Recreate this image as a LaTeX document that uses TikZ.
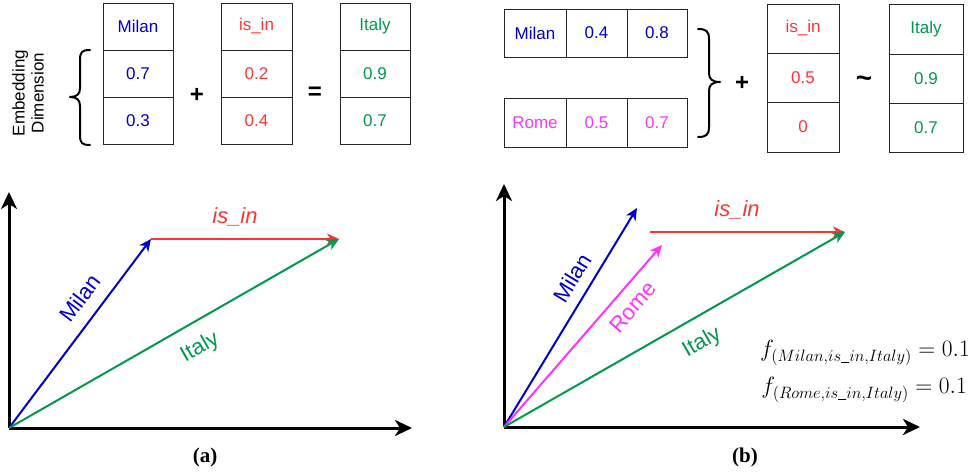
\RequirePackage{fix-cm}
\documentclass[tikz,border=0pt]{standalone}
\usepackage{fontspec}
\setmainfont{Liberation Sans}
\newfontfamily\serifb{Liberation Serif}
\usetikzlibrary{arrows.meta}
\definecolor{cblue}{HTML}{0000CC}
\definecolor{cred}{HTML}{FF3333}
\definecolor{cgreen}{HTML}{00994D}
\definecolor{cmag}{HTML}{FF33FF}
\newcommand{\usc}{\mbox{\rule[-2pt]{8pt}{0.8pt}}}
\begin{document}
\begin{tikzpicture}[x=1pt,y=-1pt,
  cell/.style={draw=black!85, line width=1pt, inner sep=0pt, font=\fontsize{17}{20}\selectfont},
  lcell/.style={cell, minimum width=70pt, minimum height=47pt},
  op/.style={font=\fontsize{24}{26}\selectfont\bfseries, inner sep=0pt},
  brace/.style={line width=2pt, line cap=round, line join=round},
  axis/.style={line width=3pt, -{Stealth[length=17pt,width=16pt,inset=5pt]}},
  vec/.style={line width=2pt, -{Stealth[length=12pt,width=11pt,inset=3.5pt]}},
  plab/.style={font=\fontsize{22}{26}\selectfont, inner sep=0pt},
  caplab/.style={font=\fontsize{21}{24}\selectfont\serifb\bfseries, inner sep=0pt},
  fml/.style={font=\fontsize{23.5}{28}\selectfont, inner sep=0pt, anchor=east}]
\useasboundingbox (0,0) rectangle (972,474);

% ---------- top left ----------
\node[font=\fontsize{17}{19}\selectfont, rotate=90, align=center, inner sep=0pt] (emb) at (28,93) {Embedding\\Dimension};
\draw[brace] (90,50) .. controls (82,50) and (80,52) .. (80,60) -- (80,88)
  .. controls (80,94) and (77,97) .. (70,97) .. controls (77,97) and (80,100) .. (80,106)
  -- (80,135) .. controls (80,143) and (82,145) .. (90,145);

\node[lcell, text=cblue] (ma) at (138,26.5) {Milan};
\node[lcell, text=cblue] (mb) at (138,73.5) {0.7};
\node[lcell, text=cblue] (mc) at (138,121) {0.3};
\node[op] (plusa) at (197,95) {+};
\node[lcell, minimum width=71pt, text=cred] (ra) at (256.5,26.5) {is\_in};
\node[lcell, minimum width=71pt, text=cred] (rb) at (256.5,73.5) {0.2};
\node[lcell, minimum width=71pt, text=cred] (rc) at (256.5,121) {0.4};
\node[op] (eqa) at (315,93) {=};
\node[lcell, text=cgreen] (ia) at (375,26.5) {Italy};
\node[lcell, text=cgreen] (ib) at (375,73.5) {0.9};
\node[lcell, text=cgreen] (ic) at (375,121) {0.7};

% ---------- top right ----------
\node[cell, minimum width=62pt, minimum height=48pt, text=cblue] (m1) at (535,33) {Milan};
\node[cell, minimum width=61pt, minimum height=48pt, text=cblue] (m2) at (596.5,33) {0.4};
\node[cell, minimum width=60pt, minimum height=48pt, text=cblue] (m3) at (657,33) {0.8};
\node[cell, minimum width=62pt, minimum height=49pt, text=cmag] (r1) at (535,122.5) {Rome};
\node[cell, minimum width=61pt, minimum height=49pt, text=cmag] (r2) at (596.5,122.5) {0.5};
\node[cell, minimum width=60pt, minimum height=49pt, text=cmag] (r3) at (657,122.5) {0.7};
\draw[brace] (698,29) .. controls (706,29) and (709,31) .. (709,39) -- (709,73)
  .. controls (709,79) and (712,82) .. (720,82) .. controls (712,82) and (709,85) .. (709,91)
  -- (709,127) .. controls (709,135) and (706,137) .. (698,137);
\node[op] (plusb) at (742,83) {+};
\node[cell, minimum width=72pt, minimum height=49pt, text=cred] (s1) at (803,28.5) {is\_in};
\node[cell, minimum width=72pt, minimum height=49pt, text=cred] (s2) at (803,77.5) {0.5};
\node[cell, minimum width=72pt, minimum height=50pt, text=cred] (s3) at (803,127) {0};
\node[op, font=\fontsize{28}{30}\selectfont\bfseries] (tilde) at (864,82) {\textasciitilde};
\node[cell, minimum width=74pt, minimum height=50pt, text=cgreen] (t1) at (926,29) {Italy};
\node[cell, minimum width=74pt, minimum height=49pt, text=cgreen] (t2) at (926,78.5) {0.9};
\node[cell, minimum width=74pt, minimum height=49pt, text=cgreen] (t3) at (926,127.5) {0.7};

% ---------- plot (a) ----------
\coordinate (oa) at (9,428);
\coordinate (ya) at (9,192);
\coordinate (xa) at (412,428);
\coordinate (pm) at (151,239);
\coordinate (pi) at (339,239);
\draw[axis] (oa) -- (ya);
\draw[axis] (oa) -- (xa);
\draw[vec, cred] (pm) -- (pi);
\draw[vec, cblue] (oa) -- (pm);
\draw[vec, cgreen] (oa) -- (pi);
\node[plab, text=cred, font=\fontsize{22}{26}\selectfont\itshape] (la1) at (235,217) {is\_in};
\node[plab, text=cblue, rotate=53] (la2) at (80,298) {Milan};
\node[plab, text=cgreen, rotate=29.7] (la3) at (200,348) {Italy};
\node[caplab] (capa) at (205,457) {(a)};

% ---------- plot (b) ----------
\coordinate (ob) at (504,427);
\coordinate (yb) at (504,184);
\coordinate (xb) at (920,427);
\coordinate (qm) at (637,208);
\coordinate (qr) at (662,245);
\coordinate (qs) at (650,232);
\coordinate (qi) at (845,232);
\draw[axis] (ob) -- (yb);
\draw[axis] (ob) -- (xb);
\draw[vec, cred] (qs) -- (qi);
\draw[vec, cblue] (ob) -- (qm);
\draw[vec, cmag] (ob) -- (qr);
\draw[vec, cgreen] (ob) -- (qi);
\node[plab, text=cred, font=\fontsize{22}{26}\selectfont\itshape] (lb1) at (737,210) {is\_in};
\node[plab, text=cblue, rotate=58.7] (lb2) at (572,278) {Milan};
\node[plab, text=cmag, rotate=49] (lb3) at (633,307) {Rome};
\node[plab, text=cgreen, rotate=29.8] (lb4) at (702,343) {Italy};
\node[fml] (f1) at (970,353) {$f_{(Milan,is\usc in,Italy)} = 0.1$};
\node[fml] (f2) at (967,390) {$f_{(Rome,is\usc in,Italy)} = 0.1$};
\node[caplab] (capb) at (745,457) {(b)};
\end{tikzpicture}
\end{document}
